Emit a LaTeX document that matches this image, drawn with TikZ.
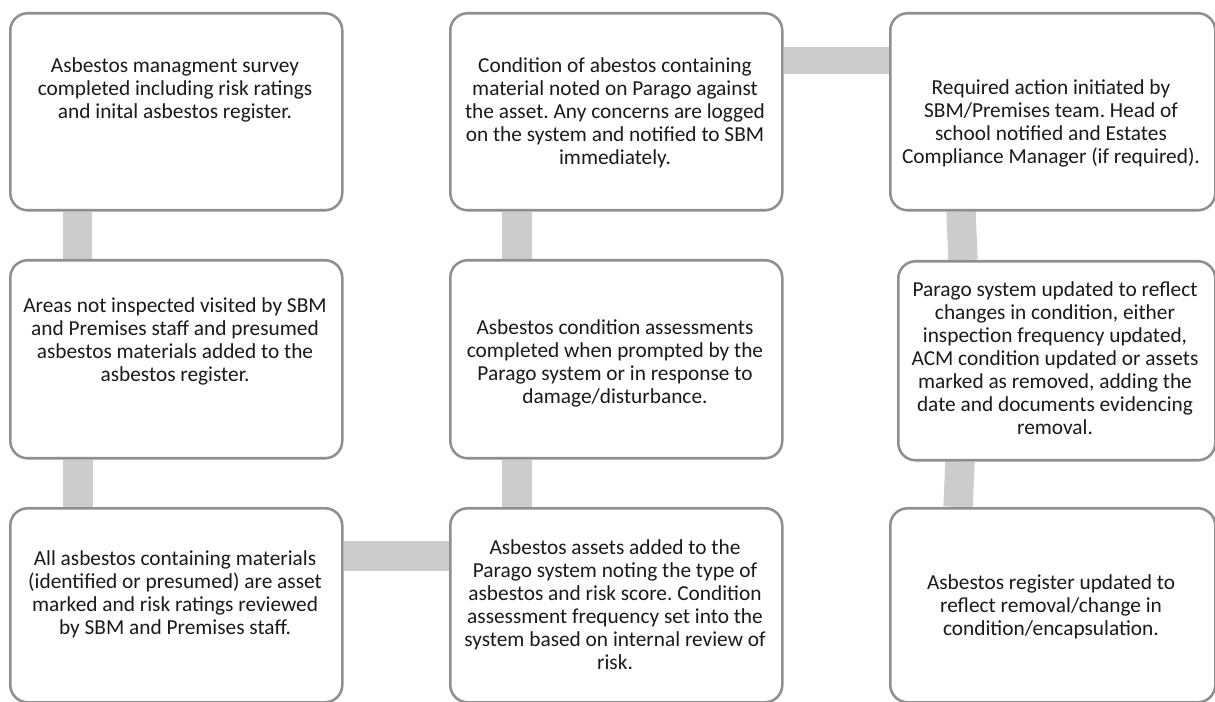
\documentclass[tikz,border=0pt]{standalone}
\usepackage{fontspec}
\setmainfont{Carlito}
\usetikzlibrary{backgrounds}
\definecolor{boxline}{HTML}{8F8F8F}
\definecolor{barfill}{HTML}{CCCCCC}
\definecolor{ink}{HTML}{1A1A1A}
\frenchspacing

\begin{document}
\begin{tikzpicture}[x=0.75pt,y=-0.75pt,
  stagebox/.style={draw=boxline,line width=1.9pt,rounded corners=13pt,fill=white,inner sep=0pt,anchor=north west},
  stagetext/.style={align=center,text=ink,font=\fontsize{16}{17.25}\selectfont,inner sep=0pt},
  linkbar/.style={draw=barfill,line width=22pt}]
\useasboundingbox (0,0) rectangle (1215,702);
% boxes, row by row
\node[stagebox,minimum width=249pt,minimum height=147.75pt] (b11) at (9,12) {};
\node[stagebox,minimum width=249pt,minimum height=147.75pt] (b12) at (449,12) {};
\node[stagebox,minimum width=243.75pt,minimum height=147.75pt] (b13) at (889,12) {};
\node[stagebox,minimum width=249pt,minimum height=148.5pt] (b21) at (9,259) {};
\node[stagebox,minimum width=249pt,minimum height=148.5pt] (b22) at (449,259) {};
\node[stagebox,minimum width=237.75pt,minimum height=149.25pt] (b23) at (897,260) {};
\node[stagebox,minimum width=249pt,minimum height=145.5pt] (b31) at (9,507) {};
\node[stagebox,minimum width=249pt,minimum height=145.5pt] (b32) at (449,507) {};
\node[stagebox,minimum width=243.75pt,minimum height=145.5pt] (b33) at (889,507) {};
% texts
\node[stagetext] (t11) at (175,90) {Asbestos managment survey\\completed including risk ratings\\and inital asbestos register.};
\node[stagetext] (t12) at (615,113) {Condition of abestos containing\\material noted on Parago against\\the asset. Any concerns are logged\\on the system and notified to SBM\\immediately.};
\node[stagetext] (t13) at (1051,123) {Required action initiated by\\SBM/Premises team. Head of\\school notified and Estates\\Compliance Manager (if required).};
\node[stagetext] (t21) at (175,341) {Areas not inspected visited by SBM\\and Premises staff and presumed\\asbestos materials added to the\\asbestos register.};
\node[stagetext] (t22) at (615,363) {Asbestos condition assessments\\completed when prompted by the\\Parago system or in response to\\damage/disturbance.};
\node[stagetext] (t23) at (1055,358) {Parago system updated to reflect\\changes in condition, either\\inspection frequency updated,\\ACM condition updated or assets\\marked as removed, adding the\\date and documents evidencing\\removal.};
\node[stagetext] (t31) at (175,594) {All asbestos containing materials\\(identified or presumed) are asset\\marked and risk ratings reviewed\\by SBM and Premises staff.};
\node[stagetext] (t32) at (615,605) {Asbestos assets added to the\\Parago system noting the type of\\asbestos and risk score. Condition\\assessment frequency set into the\\system based on internal review of\\risk.};
\node[stagetext] (t33) at (1051,607) {Asbestos register updated to\\reflect removal/change in\\condition/encapsulation.};
% bar positions
\coordinate (k1) at (77.5,0);
\coordinate (k2) at (78,0);
\coordinate (k3) at (0,556);
\coordinate (k4) at (517,0);
\coordinate (k5) at (0,60.5);
\coordinate (k6a) at (961,0);
\coordinate (k6b) at (963,0);
\coordinate (k7a) at (960,0);
\coordinate (k7b) at (958,0);
\begin{scope}[on background layer]
\draw[linkbar] (b11.south -| k1) -- (b21.north -| k1);
\draw[linkbar] (b21.south -| k2) -- (b31.north -| k2);
\draw[linkbar] (b31.east |- k3) -- (b32.west |- k3);
\draw[linkbar] (b32.north -| k4) -- (b22.south -| k4);
\draw[linkbar] (b22.north -| k4) -- (b12.south -| k4);
\draw[linkbar,line width=20pt] (b12.east |- k5) -- (b13.west |- k5);
\draw[linkbar] (b13.south -| k6a) -- (b23.north -| k6b);
\draw[linkbar] (b23.south -| k7a) -- (b33.north -| k7b);
\end{scope}
\end{tikzpicture}
\end{document}
